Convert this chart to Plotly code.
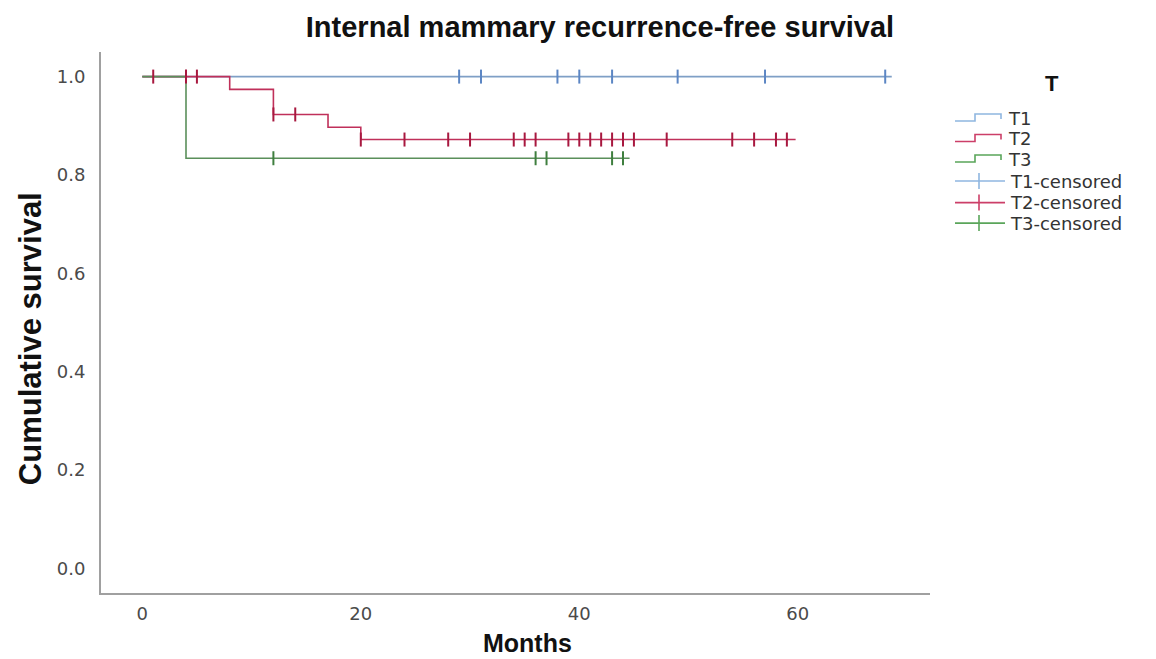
import plotly.graph_objects as go

# ---------------- data ----------------
groups = ["T1", "T2", "T3"]
# event times and survival estimates (step functions)
t1_times = [0]
t1_surv = [1.0]
t1_end = 68.6
t1_censor = [29, 31, 38, 40, 43, 49, 57, 68]

t2_times = [0, 8, 12, 17, 20]
t2_surv = [1.0, 0.974, 0.923, 0.897, 0.872]
t2_end = 59.8
t2_censor = [1, 4, 5, 12, 14, 20, 24, 28, 30, 34, 35, 36, 39, 40, 41, 42, 43,
             44, 45, 48, 54, 56, 58, 59]

t3_times = [0, 4]
t3_surv = [1.0, 0.834]
t3_end = 44.6
t3_censor = [12, 36, 37, 43, 44]

x_ticks = [0, 20, 40, 60]
y_ticks = [0.0, 0.2, 0.4, 0.6, 0.8, 1.0]
y_tick_labels = ["0.0", "0.2", "0.4", "0.6", "0.8", "1.0"]

line_colors = {"T1": "#7f9fc6", "T2": "#c0305a", "T3": "#5a8f5a"}
mark_colors = {"T1": "#5c86c4", "T2": "#a8183f", "T3": "#3f7f3f"}
legend_colors = {"T1": "#8fb6e0", "T2": "#cc3f68", "T3": "#5aa55a"}

series = {
    "T1": (t1_times, t1_surv, t1_end, t1_censor),
    "T2": (t2_times, t2_surv, t2_end, t2_censor),
    "T3": (t3_times, t3_surv, t3_end, t3_censor),
}


def surv_at(times, surv, t):
    s = surv[0]
    for tt, ss in zip(times, surv):
        if tt <= t:
            s = ss
    return s


fig = go.Figure()
for g in groups:
    times, surv, end, cens = series[g]
    fig.add_trace(go.Scatter(
        x=list(times) + [end], y=list(surv) + [surv[-1]],
        mode="lines", line=dict(color=line_colors[g], width=1.6, shape="hv"),
        name=g, showlegend=False, hoverinfo="skip"))
for g in groups:
    times, surv, end, cens = series[g]
    fig.add_trace(go.Scatter(
        x=cens, y=[surv_at(times, surv, c) for c in cens],
        mode="markers",
        marker=dict(symbol="line-ns", size=10,
                    line=dict(color=mark_colors[g], width=2)),
        name=g + "-censored", showlegend=False))

# ---------------- layout geometry ----------------
OFF = 8  # page body margin in the browser
W, H = 1156 - OFF, 659 - OFF
# plot area in window pixels
PL, PR, PT, PB = 101, 930, 52, 592.7
pl, pr, pt, pb = PL - OFF, PR - OFF, PT - OFF, PB - OFF


def px(xp):
    return (xp - PL) / (PR - PL)


def py(yp):
    return (PB - yp) / (PB - PT)


fig.update_layout(
    width=W, height=H, autosize=False,
    margin=dict(l=pl, r=W - pr, t=pt, b=H - pb, pad=0),
    paper_bgcolor="white", plot_bgcolor="white",
    showlegend=False,
    title=dict(text="<b>Internal mammary recurrence-free survival</b>",
               xref="container", yref="container",
               x=(600 - OFF) / W, y=1 - (27 - OFF) / H,
               xanchor="center", yanchor="middle",
               font=dict(family="Liberation Sans", size=29, color="#111111")),
    xaxis=dict(range=[-3.78, 72.1], tickvals=x_ticks, showgrid=False,
               zeroline=False, showline=True, linecolor="#a0a0a0", linewidth=2,
               ticks="", ticklabelstandoff=3,
               tickfont=dict(family="DejaVu Sans", size=18, color="#4a4a4a")),
    yaxis=dict(range=[-0.05, 1.05], tickvals=y_ticks, ticktext=y_tick_labels,
               showgrid=False, zeroline=False, showline=True,
               linecolor="#a0a0a0", linewidth=2, ticks="",
               ticklabelstandoff=10,
               tickfont=dict(family="DejaVu Sans", size=18, color="#4a4a4a")),
)

annotations = [
    dict(text="<b>Months</b>", xref="paper", yref="paper",
         x=px(527), y=py(643), xanchor="center", yanchor="middle",
         showarrow=False,
         font=dict(family="Liberation Sans", size=25, color="#111111")),
    dict(text="<b>Cumulative survival</b>", xref="paper", yref="paper",
         x=px(30), y=py(339), xanchor="center", yanchor="middle",
         textangle=-90, showarrow=False,
         font=dict(family="Liberation Sans", size=31, color="#111111")),
    dict(text="<b>T</b>", xref="paper", yref="paper",
         x=px(1052), y=py(83), xanchor="center", yanchor="middle",
         showarrow=False,
         font=dict(family="Liberation Sans", size=22, color="#111111")),
]

shapes = []
row_y = [118, 138.5, 159, 181, 202.5, 223]
labels = groups + [g + "-censored" for g in groups]
for i, lab in enumerate(labels):
    yc = row_y[i]
    g = lab[:2]
    col = legend_colors[g]
    if i < 3:
        pts = [(955, yc + 3), (975, yc + 3), (975, yc - 4), (1001, yc - 4),
               (1001, yc + 1)]
        path = "M " + " L ".join(f"{px(a):.5f},{py(b):.5f}" for a, b in pts)
        shapes.append(dict(type="path", xref="paper", yref="paper", path=path,
                           line=dict(color=col, width=1.6)))
        tx = 1006
    else:
        shapes.append(dict(type="line", xref="paper", yref="paper",
                           x0=px(955), x1=px(1005), y0=py(yc), y1=py(yc),
                           line=dict(color=col, width=1.6)))
        shapes.append(dict(type="line", xref="paper", yref="paper",
                           x0=px(979), x1=px(979), y0=py(yc - 8), y1=py(yc + 8),
                           line=dict(color=col, width=1.6)))
        tx = 1008
    annotations.append(dict(text=lab, xref="paper", yref="paper",
                            x=px(tx), y=py(yc), xanchor="left",
                            yanchor="middle", showarrow=False,
                            font=dict(family="DejaVu Sans", size=18,
                                      color="#333333")))

fig.update_layout(annotations=annotations, shapes=shapes)
fig.write_html("out.html")
